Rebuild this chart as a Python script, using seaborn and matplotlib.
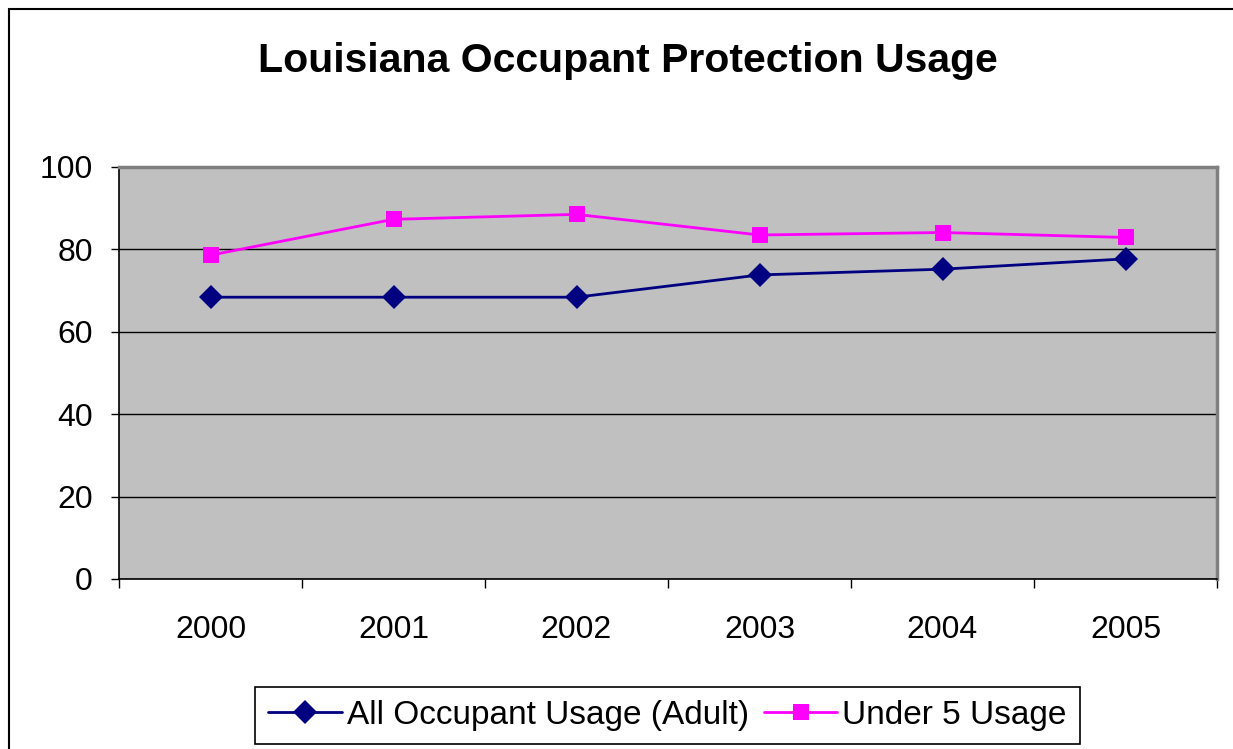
import matplotlib
matplotlib.use('Agg')
import matplotlib.pyplot as plt
import seaborn as sns
import pandas as pd
from matplotlib.patches import Rectangle

years = ['2000', '2001', '2002', '2003', '2004', '2005']
all_occupant = [68.4, 68.4, 68.4, 73.8, 75.2, 77.7]
under_5 = [78.6, 87.3, 88.5, 83.5, 84.1, 82.9]
series_names = ['All Occupant Usage (Adult)', 'Under 5 Usage']

data = pd.DataFrame({
    'pos': list(range(len(years))) * 2,
    'usage': all_occupant + under_5,
    'series': [series_names[0]] * len(years) + [series_names[1]] * len(years),
})

sns.set_style('white')
plt.rcParams['font.family'] = ['Liberation Sans', 'DejaVu Sans']
plt.rcParams['text.color'] = 'black'
plt.rcParams['xtick.color'] = 'black'
plt.rcParams['ytick.color'] = 'black'

fig = plt.figure(figsize=(12.33, 7.49), dpi=100)
ax = fig.add_axes([119 / 1233, 1 - 579 / 749, (1217 - 119) / 1233, (579 - 167) / 749])

sns.lineplot(data=data, x='pos', y='usage', hue='series', style='series',
             palette=['#000080', '#FF00FF'], markers=['D', 's'], dashes=False,
             linewidth=2, markersize=12, markeredgewidth=0, ax=ax, legend=False)

ax.set_facecolor('#C0C0C0')
ax.set_xlim(-0.5, len(years) - 0.5)
ax.set_ylim(0, 100)
ax.set_yticks([0, 20, 40, 60, 80, 100])
ax.set_xticks(range(len(years)))
ax.set_xticklabels(years)
ax.set_xticks([i - 0.5 for i in range(len(years) + 1)], minor=True)
ax.tick_params(axis='x', which='major', length=0, labelsize=23, pad=26)
ax.tick_params(axis='x', which='minor', length=6.5, width=1, direction='out', color='black', bottom=True)
ax.tick_params(axis='y', length=5.8, width=1, direction='out', color='black', left=True, labelsize=23, pad=13)
ax.set_xlabel('')
ax.set_ylabel('')
ax.grid(True, axis='y', color='black', linewidth=1)
ax.set_axisbelow(True)
for side in ['left', 'bottom']:
    ax.spines[side].set_color('black')
    ax.spines[side].set_linewidth(1.2)
for side in ['top', 'right']:
    ax.spines[side].set_color('#808080')
    ax.spines[side].set_linewidth(2.5)

fig.text(627.5 / 1233, 1 - 61 / 749, 'Louisiana Occupant Protection Usage',
         ha='center', va='center', fontsize=29.5, fontweight='bold', color='black')

handles = [plt.Line2D([], [], color='#000080', marker='D', markersize=12, linewidth=2, markeredgewidth=0),
           plt.Line2D([], [], color='#FF00FF', marker='s', markersize=11, linewidth=2, markeredgewidth=0)]
leg = fig.legend(handles, series_names, loc='center', bbox_to_anchor=(667.5 / 1233, 1 - 715.5 / 749),
                 ncol=2, fontsize=24, frameon=True, fancybox=False, edgecolor='black', framealpha=1,
                 handlelength=2.2, handletextpad=0.15, columnspacing=0.45, borderpad=0.4,
                 borderaxespad=0)
leg.get_frame().set_linewidth(1.2)

fig.patches.append(Rectangle((8.5 / 1233, -0.1), 1.2, 1 - 8.5 / 749 + 0.1, transform=fig.transFigure,
                             fill=False, edgecolor='black', linewidth=1.5))

fig.savefig('out.png', dpi=100)
